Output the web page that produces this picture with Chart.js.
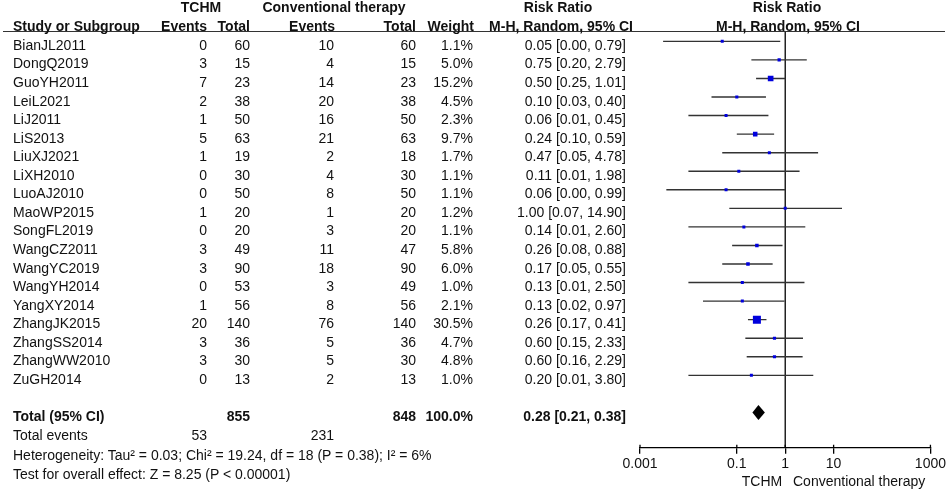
<!DOCTYPE html>
<html>
<head>
<meta charset="utf-8">
<script src="https://cdn.jsdelivr.net/npm/chart.js@4.4.1/dist/chart.umd.min.js"></script>
<style>
  html, body { margin: 0; padding: 0; background: #fff; }
  #wrap { position: relative; width: 948px; height: 490px; overflow: hidden;
          font-family: "Liberation Sans", Arial, sans-serif; font-size: 14px; color: #111; }
  #forest { position: absolute; left: 0; top: 0; }
  .t { position: absolute; white-space: nowrap; line-height: 16px; }
  .b { font-weight: bold; }
  #rule { position: absolute; left: 3px; top: 31px; width: 942px; height: 0; border-top: 1.3px solid #333; }
</style>
</head>
<body>
<div id="wrap">
  <canvas id="forest" width="948" height="490"></canvas>
  <div id="rule"></div>
</div>
<script>
// studies and raw counts
var studies = ['BianJL2011', 'DongQ2019', 'GuoYH2011', 'LeiL2021', 'LiJ2011', 'LiS2013', 'LiuXJ2021',
               'LiXH2010', 'LuoAJ2010', 'MaoWP2015', 'SongFL2019', 'WangCZ2011', 'WangYC2019',
               'WangYH2014', 'YangXY2014', 'ZhangJK2015', 'ZhangSS2014', 'ZhangWW2010', 'ZuGH2014'];
var tchmEvents = [0, 3, 7, 2, 1, 5, 1, 0, 0, 1, 0, 3, 3, 0, 1, 20, 3, 3, 0];
var tchmTotal  = [60, 15, 23, 38, 50, 63, 19, 30, 50, 20, 20, 49, 90, 53, 56, 140, 36, 30, 13];
var convEvents = [10, 4, 14, 20, 16, 21, 2, 4, 8, 1, 3, 11, 18, 3, 8, 76, 5, 5, 2];
var convTotal  = [60, 15, 23, 38, 50, 63, 18, 30, 50, 20, 20, 47, 90, 49, 56, 140, 36, 30, 13];
var weights    = [1.1, 5.0, 15.2, 4.5, 2.3, 9.7, 1.7, 1.1, 1.1, 1.2, 1.1, 5.8, 6.0, 1.0, 2.1, 30.5, 4.7, 4.8, 1.0];

var riskRatio = [0.05, 0.75, 0.50, 0.10, 0.06, 0.24, 0.47, 0.11, 0.06, 1.00, 0.14, 0.26, 0.17, 0.13, 0.13, 0.26, 0.60, 0.60, 0.20];
var ciLow     = [0.003, 0.20, 0.25, 0.03, 0.01, 0.10, 0.05, 0.01, 0.0035, 0.07, 0.01, 0.08, 0.05, 0.01, 0.02, 0.17, 0.15, 0.16, 0.01];
var ciHigh    = [0.79, 2.79, 1.01, 0.40, 0.45, 0.59, 4.78, 1.98, 0.99, 14.90, 2.60, 0.88, 0.55, 2.50, 0.97, 0.41, 2.33, 2.29, 3.80];

// pooled result
var pooled = [0.28, 0.21, 0.38];
var totals = [855, 848];
var totalEvents = [53, 231];
var xTicks = [0.001, 0.1, 1, 10, 1000];

var TOTAL_ROW = 20;
var Y_MIN = -0.52, Y_MAX = 21.9;

// diamond for the pooled estimate + small tick stubs above the axis
var diamondPlugin = {
  id: 'diamond',
  afterDatasetsDraw: function(chart) {
    var x = chart.scales.x, y = chart.scales.y, ctx = chart.ctx;
    var yc = y.getPixelForValue(TOTAL_ROW);
    ctx.save();
    ctx.fillStyle = '#000';
    ctx.beginPath();
    ctx.moveTo(x.getPixelForValue(pooled[1]), yc);
    ctx.lineTo(x.getPixelForValue(pooled[0]), yc - 7.5);
    ctx.lineTo(x.getPixelForValue(pooled[2]), yc);
    ctx.lineTo(x.getPixelForValue(pooled[0]), yc + 7.5);
    ctx.closePath();
    ctx.fill();

    var yb = chart.chartArea.bottom;
    ctx.strokeStyle = '#000';
    ctx.lineWidth = 1.3;
    ctx.beginPath();
    xTicks.forEach(function(v) {
      var px = x.getPixelForValue(v);
      ctx.moveTo(px, yb - 3);
      ctx.lineTo(px, yb);
    });
    ctx.stroke();
    ctx.restore();
  }
};

var datasets = [];
// squares on top
datasets.push({
  type: 'scatter',
  data: riskRatio.map(function(v, i) { return {x: v, y: i}; }),
  pointStyle: 'rect',
  pointRadius: weights.map(function(w) { return Math.max(3, 1.45 * Math.sqrt(w)) / Math.SQRT2; }),
  pointBorderWidth: 0,
  backgroundColor: '#0000dd',
  borderColor: '#0000dd'
});
// CI lines
studies.forEach(function(s, i) {
  datasets.push({
    type: 'line',
    data: [{x: ciLow[i], y: i}, {x: ciHigh[i], y: i}],
    borderColor: '#333',
    borderWidth: 1.4,
    pointRadius: 0
  });
});
// line of no effect
datasets.push({
  type: 'line',
  data: [{x: 1, y: Y_MIN}, {x: 1, y: Y_MAX}],
  borderColor: '#000',
  borderWidth: 1.3,
  pointRadius: 0
});

var chart = new Chart(document.getElementById('forest').getContext('2d'), {
  data: { datasets: datasets },
  plugins: [diamondPlugin],
  options: {
    responsive: false,
    animation: false,
    events: [],
    layout: { padding: { left: 640, right: 15, top: 31.7, bottom: 0 } },
    plugins: { legend: { display: false }, tooltip: { enabled: false } },
    scales: {
      x: {
        type: 'logarithmic',
        position: 'bottom',
        min: 0.001,
        max: 1000,
        afterBuildTicks: function(scale) {
          scale.ticks = xTicks.map(function(v) { return {value: v}; });
        },
        afterFit: function(scale) { scale.height = 42.3; },
        ticks: {
          autoSkip: false,
          maxRotation: 0,
          padding: 2,
          color: '#111',
          font: { family: '"Liberation Sans", Arial, sans-serif', size: 14 },
          callback: function(v) { return String(v); }
        },
        grid: { drawOnChartArea: false, drawTicks: true, tickLength: 6, color: '#000', lineWidth: 1.3 },
        border: { display: true, color: '#000', width: 1.3 }
      },
      y: {
        type: 'linear',
        display: false,
        reverse: true,
        min: Y_MIN,
        max: Y_MAX
      }
    }
  }
});

// table text, placed on the chart's row positions
var wrap = document.getElementById('wrap');
function put(text, x, y, align, bold) {
  var d = document.createElement('div');
  d.className = 't' + (bold ? ' b' : '');
  d.textContent = text;
  d.style.left = x + 'px';
  d.style.top = (y - 8) + 'px';
  if (align === 'right') d.style.transform = 'translateX(-100%)';
  if (align === 'center') d.style.transform = 'translateX(-50%)';
  wrap.appendChild(d);
}
function rowY(i) { return chart.scales.y.getPixelForValue(i) + 3.5; }
function ci(r, l, h) { return r.toFixed(2) + ' [' + l.toFixed(2) + ', ' + h.toFixed(2) + ']'; }

// headers
put('TCHM', 201, 7, 'center', true);
put('Conventional therapy', 334, 7, 'center', true);
put('Risk Ratio', 558, 7, 'center', true);
put('Risk Ratio', 787, 7, 'center', true);
put('Study or Subgroup', 13, 26, 'left', true);
put('Events', 207, 26, 'right', true);
put('Total', 250, 26, 'right', true);
put('Events', 335, 26, 'right', true);
put('Total', 416, 26, 'right', true);
put('Weight', 474, 26, 'right', true);
put('M-H, Random, 95% CI', 633, 26, 'right', true);
put('M-H, Random, 95% CI', 788, 26, 'center', true);

studies.forEach(function(s, i) {
  var y = rowY(i);
  put(s, 13, y, 'left');
  put(String(tchmEvents[i]), 207, y, 'right');
  put(String(tchmTotal[i]), 250, y, 'right');
  put(String(convEvents[i]), 334, y, 'right');
  put(String(convTotal[i]), 416, y, 'right');
  put(weights[i].toFixed(1) + '%', 473, y, 'right');
  put(ci(riskRatio[i], ciLow[i], ciHigh[i]), 626, y, 'right');
});

var yT = rowY(TOTAL_ROW);
put('Total (95% CI)', 13, yT, 'left', true);
put(String(totals[0]), 250, yT, 'right', true);
put(String(totals[1]), 416, yT, 'right', true);
put('100.0%', 473, yT, 'right', true);
put(ci(pooled[0], pooled[1], pooled[2]), 626, yT, 'right', true);

var yE = rowY(21.05);
put('Total events', 13, yE, 'left');
put(String(totalEvents[0]), 207, yE, 'right');
put(String(totalEvents[1]), 334, yE, 'right');
put('Heterogeneity: Tau\u00b2 = 0.03; Chi\u00b2 = 19.24, df = 18 (P = 0.38); I\u00b2 = 6%', 13, rowY(22.1), 'left');
put('Test for overall effect: Z = 8.25 (P < 0.00001)', 13, rowY(23.15), 'left');

put('TCHM', 762, 481, 'center');
put('Conventional therapy', 793, 481, 'left');
</script>
</body>
</html>
